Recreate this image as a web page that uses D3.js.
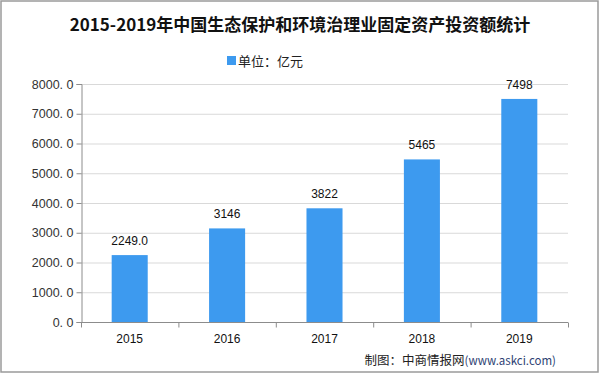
<!DOCTYPE html>
<html><head><meta charset="utf-8">
<script src="https://cdn.jsdelivr.net/npm/d3@7"></script>
<style>body{margin:0;background:#fff}svg{display:block}</style>
</head><body>
<script>
const years = ["2015","2016","2017","2018","2019"];
const values = [2249.0, 3146, 3822, 5465, 7498];
const valueLabels = ["2249.0","3146","3822","5465","7498"];
const yTicks = [0,1000,2000,3000,4000,5000,6000,7000,8000];
const title = "2015-2019年中国生态保护和环境治理业固定资产投资额统计";
const legendLabel = "单位：亿元";
const sourceLabel = "制图：中商情报网";
const sourceUrl = "(www.askci.com)";

const W = 600, H = 376;
const svg = d3.select("body").append("svg").attr("width", W).attr("height", H);
const cjk = "'Noto Sans CJK SC', 'DejaVu Sans', sans-serif";
const num = "'Liberation Sans', 'DejaVu Sans', sans-serif";

svg.append("rect").attr("x",1).attr("y",1).attr("width",W-3).attr("height",371)
  .attr("fill","#fff").attr("stroke","#9a9a9a").attr("stroke-width",1.5);

const m = {left:81, right:568, top:84, bottom:322};
const x = d3.scaleBand().domain(years).range([m.left, m.right]).paddingInner(0.63).paddingOuter(0.315);
const xb = d3.scaleBand().domain(years).range([m.left, m.right]);
const y = d3.scaleLinear().domain([0,8000]).range([m.bottom, m.top]);

// gridlines
svg.append("g").selectAll("line").data(yTicks.filter(d=>d>0)).join("line")
  .attr("x1", m.left).attr("x2", m.right)
  .attr("y1", d=>y(d)+0.5).attr("y2", d=>y(d)+0.5)
  .attr("stroke","#d9d9d9").attr("stroke-width",1);

// bars
svg.append("g").selectAll("rect").data(values).join("rect")
  .attr("x",(d,i)=>x(years[i])).attr("width",x.bandwidth())
  .attr("y",d=>y(d)).attr("height",d=>y(0)-y(d))
  .attr("fill","#3d9aef");

// value labels
svg.append("g").selectAll("text").data(values).join("text")
  .attr("x",(d,i)=>x(years[i])+x.bandwidth()/2).attr("y",d=>y(d)-10)
  .attr("text-anchor","middle").attr("font-family",num).attr("font-size",12)
  .attr("fill","#111").text((d,i)=>valueLabels[i]);

// y axis
const yAxis = d3.axisLeft(y).tickValues(yTicks).tickSize(5).tickPadding(3)
  .tickFormat(d=>d3.format(".1f")(d).replace(".", ". "));
const gy = svg.append("g").attr("transform",`translate(${m.left+0.5},0)`).call(yAxis);
gy.select(".domain").attr("stroke","#8c8c8c");
gy.selectAll(".tick line").attr("stroke","#8c8c8c");
gy.selectAll("text").attr("font-family",num).attr("font-size",12.5).attr("fill","#333");

// x axis
const gx = svg.append("g").attr("transform",`translate(0,${m.bottom+0.5})`);
gx.append("line").attr("x1",m.left).attr("x2",m.right).attr("stroke","#8c8c8c");
const bounds = years.map(d=>xb(d)).concat([m.right]);
gx.selectAll("line.t").data(bounds).join("line").attr("class","t")
  .attr("x1",d=>d+0.5).attr("x2",d=>d+0.5).attr("y1",0).attr("y2",5).attr("stroke","#8c8c8c");
gx.selectAll("text").data(years).join("text")
  .attr("x",d=>xb(d)+xb.bandwidth()/2).attr("y",20)
  .attr("text-anchor","middle").attr("font-family",num).attr("font-size",12)
  .attr("fill","#111").text(d=>d);

// title
svg.append("text").attr("x",300).attr("y",31).attr("text-anchor","middle")
  .attr("font-family",cjk).attr("font-weight","bold").attr("font-size",17)
  .attr("fill","#111").text(title);

// legend
svg.append("rect").attr("x",227).attr("y",56).attr("width",9).attr("height",9).attr("fill","#3d9aef");
svg.append("text").attr("x",238).attr("y",65.5).attr("font-family",cjk).attr("font-size",13)
  .attr("fill","#222").text(legendLabel);

// source
const src = svg.append("text").attr("x",556).attr("y",365).attr("text-anchor","end")
  .attr("font-family",cjk).attr("font-size",12.5).attr("fill","#222");
src.append("tspan").text(sourceLabel);
src.append("tspan").attr("fill","#2e3f73").attr("font-size",11.5).text(sourceUrl);
</script>
</body></html>
